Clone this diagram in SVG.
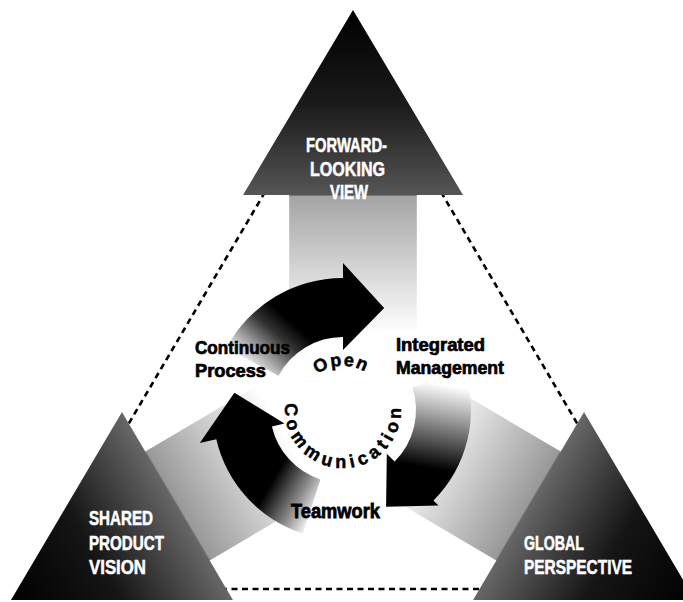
<svg xmlns="http://www.w3.org/2000/svg" width="683" height="602" viewBox="0 0 683 602">
  <style>
    .dash { fill: none; stroke: #000; stroke-width: 2.6; stroke-dasharray: 6 4.5; }
    .big { font-family: "Liberation Sans", Arial, sans-serif; font-weight: 700; font-size: 19px; fill: #fff; stroke: #fff; stroke-width: 0.5; }
    .lbl { font-family: "Liberation Sans", Arial, sans-serif; font-weight: 700; font-size: 18px; fill: #000; stroke: #000; stroke-width: 0.7; }
    .ring { font-family: "Liberation Sans", Arial, sans-serif; font-weight: 700; fill: #000; stroke: #000; stroke-width: 0.5; }
  </style>
  <defs>
    <linearGradient id="gTop" gradientUnits="userSpaceOnUse" x1="353" y1="10" x2="353" y2="385">
      <stop offset="0" stop-color="#000"/>
      <stop offset="0.25" stop-color="#1a1a1a"/>
      <stop offset="0.493" stop-color="#555"/>
      <stop offset="0.497" stop-color="#a4a4a4"/>
      <stop offset="0.86" stop-color="#fff"/>
    </linearGradient>
    <linearGradient id="gLeft" gradientUnits="userSpaceOnUse" x1="11" y1="600" x2="339.1" y2="406.3">
      <stop offset="0" stop-color="#000"/>
      <stop offset="0.25" stop-color="#151515"/>
      <stop offset="0.5" stop-color="#666"/>
      <stop offset="0.505" stop-color="#999"/>
      <stop offset="0.84" stop-color="#fff"/>
    </linearGradient>
    <linearGradient id="gRight" gradientUnits="userSpaceOnUse" x1="695" y1="600" x2="366.9" y2="406.3">
      <stop offset="0" stop-color="#000"/>
      <stop offset="0.25" stop-color="#151515"/>
      <stop offset="0.5" stop-color="#666"/>
      <stop offset="0.505" stop-color="#999"/>
      <stop offset="0.84" stop-color="#fff"/>
    </linearGradient>
    <linearGradient id="cTop" gradientUnits="userSpaceOnUse" x1="251" y1="370.9" x2="293" y2="323.4">
      <stop offset="0" stop-color="#fff"/>
      <stop offset="0.3" stop-color="#aaa"/>
      <stop offset="0.7" stop-color="#333"/>
      <stop offset="1" stop-color="#000"/>
    </linearGradient>
    <linearGradient id="cRight" gradientUnits="userSpaceOnUse" x1="439.6" y1="384.1" x2="424.9" y2="467.4">
      <stop offset="0" stop-color="#fff"/>
      <stop offset="0.4" stop-color="#999"/>
      <stop offset="1" stop-color="#000"/>
    </linearGradient>
    <linearGradient id="cLeft" gradientUnits="userSpaceOnUse" x1="317.1" y1="506.6" x2="272.3" y2="480.7">
      <stop offset="0" stop-color="#eee"/>
      <stop offset="0.4" stop-color="#888"/>
      <stop offset="1" stop-color="#000"/>
    </linearGradient>
    <path id="openArc" d="M 301.7,425 A 44 44 0 1 1 384.3,425"/>
    <path id="commArc" d="M 288.5,390.2 A 58 58 0 1 0 397.5,390.2"/>
  </defs>

  <rect width="683" height="602" fill="#fff"/>

  <g id="connectors">
    <line class="dash" x1="265" y1="192" x2="125" y2="430"/>
    <line class="dash" x1="441" y1="192" x2="581" y2="430"/>
    <line class="dash" x1="200" y1="589" x2="506" y2="589"/>
  </g>

  <g id="node-forward-looking-view">
    <path d="M 353,10 L 463,195 L 416.8,195 L 416.8,385 L 289.2,385 L 289.2,195 L 243,195 Z" fill="url(#gTop)"/>
    <text class="big" transform="translate(306,152) scale(1,1.05)" textLength="81" lengthAdjust="spacingAndGlyphs">FORWARD-</text>
    <text class="big" transform="translate(310,176) scale(1,1.05)" textLength="75" lengthAdjust="spacingAndGlyphs">LOOKING</text>
    <text class="big" transform="translate(330,199) scale(1,1.05)" textLength="38" lengthAdjust="spacingAndGlyphs">VIEW</text>
  </g>

  <g id="node-shared-product-vision">
    <path d="M 11,600 L 122,412 L 145.3,451.5 L 308.9,354.9 L 373.3,463.9 L 209.7,560.5 L 233,600 Z" fill="url(#gLeft)"/>
    <text class="big" transform="translate(89,525) scale(1,1.05)" textLength="64" lengthAdjust="spacingAndGlyphs">SHARED</text>
    <text class="big" transform="translate(89,550) scale(1,1.05)" textLength="75" lengthAdjust="spacingAndGlyphs">PRODUCT</text>
    <text class="big" transform="translate(89,574) scale(1,1.05)" textLength="57" lengthAdjust="spacingAndGlyphs">VISION</text>
  </g>

  <g id="node-global-perspective">
    <path d="M 695,600 L 584,412 L 560.7,451.5 L 397.1,354.9 L 332.7,463.9 L 496.3,560.5 L 473,600 Z" fill="url(#gRight)"/>
    <text class="big" transform="translate(524,550) scale(1,1.05)" textLength="60" lengthAdjust="spacingAndGlyphs">GLOBAL</text>
    <text class="big" transform="translate(524,574) scale(1,1.05)" textLength="108" lengthAdjust="spacingAndGlyphs">PERSPECTIVE</text>
  </g>

  <g id="cycle-continuous-process">
    <path d="M 226.5,348 A 132 132 0 0 1 343,278 L 343,263 L 384.2,308 L 343,350 L 343,337 A 73 73 0 0 0 278.5,375.7 Z" fill="url(#cTop)"/>
    <text class="lbl" transform="translate(195,354) scale(1,1.05)" textLength="95" lengthAdjust="spacingAndGlyphs">Continuous</text>
    <text class="lbl" transform="translate(195,377) scale(1,1.05)" textLength="71" lengthAdjust="spacingAndGlyphs">Process</text>
  </g>

  <g id="cycle-integrated-management">
    <path d="M 464.7,370.4 A 128 128 0 0 1 433.5,500.5 L 438.5,505.5 L 386.1,506.8 L 386.8,453.8 L 394.6,461.6 A 73 73 0 0 0 412.4,387.4 Z" fill="url(#cRight)"/>
    <text class="lbl" transform="translate(396,351) scale(1,1.05)" textLength="89" lengthAdjust="spacingAndGlyphs">Integrated</text>
    <text class="lbl" transform="translate(396,374) scale(1,1.05)" textLength="108" lengthAdjust="spacingAndGlyphs">Management</text>
  </g>

  <g id="cycle-teamwork">
    <path d="M 302.8,533.6 A 130 130 0 0 1 216.3,439.3 L 199.8,443.1 L 234.4,392.8 L 284.5,423.5 L 271.9,426.4 A 73 73 0 0 0 320.4,479.4 Z" fill="url(#cLeft)"/>
    <text class="lbl" font-size="20" transform="translate(291,518) scale(1,1.1)" textLength="89" lengthAdjust="spacingAndGlyphs">Teamwork</text>
  </g>

  <g id="center-open-communication">
    <text class="ring" font-size="18" letter-spacing="1.5"><textPath href="#openArc" startOffset="49%" text-anchor="middle">Open</textPath></text>
    <text class="ring" font-size="18" letter-spacing="4.5"><textPath href="#commArc" startOffset="50%" text-anchor="middle">Communication</textPath></text>
  </g>
</svg>
